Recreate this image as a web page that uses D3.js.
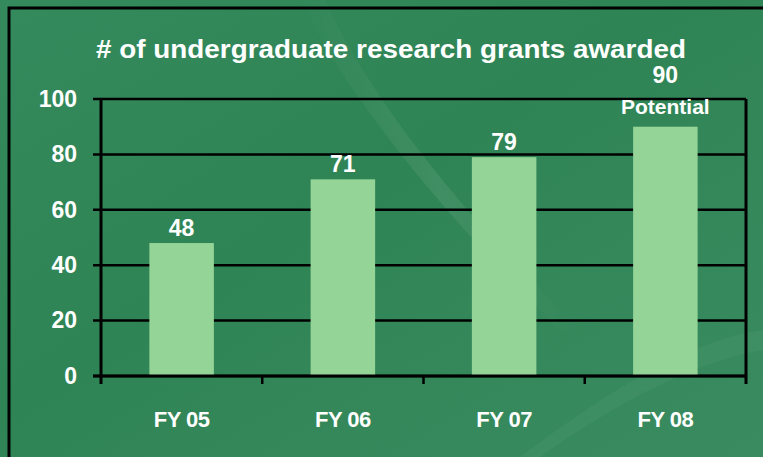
<!DOCTYPE html>
<html>
<head>
<meta charset="utf-8">
<script src="https://cdn.jsdelivr.net/npm/d3@7"></script>
<style>
  html, body { margin: 0; padding: 0; background: #33875a; }
  svg { display: block; }
  text { font-family: "Liberation Sans", Arial, sans-serif; font-weight: bold; fill: #fff; }
</style>
</head>
<body>
<svg id="chart" width="763" height="457"></svg>
<script>
// Daten
const categories = ["FY 05", "FY 06", "FY 07", "FY 08"];
const values = [48, 71, 79, 90];
const yTicks = [0, 20, 40, 60, 80, 100];
const chartTitle = "# of undergraduate research grants awarded";

const svg = d3.select("#chart");
const W = 763, H = 457;

// Hintergrund mit Verlauf
const defs = svg.append("defs");
const bg = defs.append("linearGradient")
  .attr("id", "bg").attr("x1", 0).attr("y1", 0).attr("x2", 1).attr("y2", 1);
bg.append("stop").attr("offset", "0%").attr("stop-color", "#348a5c");
bg.append("stop").attr("offset", "45%").attr("stop-color", "#2f8455");
bg.append("stop").attr("offset", "100%").attr("stop-color", "#3a8c60");

const streak = defs.append("linearGradient")
  .attr("id", "streak").attr("x1", 0).attr("y1", 0).attr("x2", 1).attr("y2", 0);
streak.append("stop").attr("offset", "0%").attr("stop-color", "#ffffff").attr("stop-opacity", 0);
streak.append("stop").attr("offset", "50%").attr("stop-color", "#ffffff").attr("stop-opacity", 0.08);
streak.append("stop").attr("offset", "100%").attr("stop-color", "#ffffff").attr("stop-opacity", 0);

svg.append("rect").attr("width", W).attr("height", H).attr("fill", "url(#bg)");

// heller Bogen im Hintergrund
svg.append("path")
  .attr("d", "M300,0 C360,120 470,240 560,330 L580,330 C490,240 380,120 325,0 Z")
  .attr("fill", "url(#streak)");
svg.append("path")
  .attr("d", "M540,457 C620,400 700,360 763,350 L763,330 C690,340 610,390 520,457 Z")
  .attr("fill", "#ffffff").attr("opacity", 0.04);

// äußerer Rahmen
svg.append("path")
  .attr("d", "M9,460 L9,8 L766,8")
  .attr("fill", "none").attr("stroke", "#000").attr("stroke-width", 3);

const margin = { top: 99, right: 17, bottom: 81, left: 101 };
const width = W - margin.left - margin.right;
const height = H - margin.top - margin.bottom;

const g = svg.append("g")
  .attr("transform", `translate(${margin.left},${margin.top})`);

const x = d3.scaleBand()
  .domain(categories)
  .range([0, width])
  .paddingInner(0.6)
  .paddingOuter(0.3);

const xOuter = d3.scaleBand()
  .domain(categories)
  .range([0, width]);

const y = d3.scaleLinear()
  .domain([0, 100])
  .range([height, 0]);

// Gitterlinien
g.selectAll("line.grid")
  .data(yTicks)
  .enter()
  .append("line")
    .attr("class", "grid")
    .attr("x1", -8)
    .attr("x2", width)
    .attr("y1", d => y(d))
    .attr("y2", d => y(d))
    .attr("stroke", "#000")
    .attr("stroke-width", 2.5);

// Balken
g.selectAll("rect.bar")
  .data(values)
  .enter()
  .append("rect")
    .attr("class", "bar")
    .attr("x", (d, i) => x(categories[i]))
    .attr("y", d => y(d))
    .attr("width", x.bandwidth())
    .attr("height", d => height - y(d))
    .attr("fill", "#94d497");

// Achsen
g.append("line")
  .attr("x1", 0).attr("x2", 0)
  .attr("y1", 0).attr("y2", height + 8)
  .attr("stroke", "#000").attr("stroke-width", 3);

g.append("line")
  .attr("x1", width).attr("x2", width)
  .attr("y1", 0).attr("y2", height + 8)
  .attr("stroke", "#000").attr("stroke-width", 3);

g.append("line")
  .attr("x1", -8).attr("x2", width)
  .attr("y1", height).attr("y2", height)
  .attr("stroke", "#000").attr("stroke-width", 3);

const xAxis = g.append("g")
  .attr("transform", `translate(0,${height})`)
  .call(d3.axisBottom(xOuter).tickSize(0).tickPadding(35));
xAxis.select(".domain").remove();
xAxis.selectAll("text")
  .attr("font-size", "22px")
  .attr("letter-spacing", "-0.5px")
  .attr("fill", "#fff");

// Ticks zwischen Kategorien
g.selectAll("line.xtick")
  .data(categories.slice(1))
  .enter()
  .append("line")
    .attr("class", "xtick")
    .attr("x1", d => xOuter(d))
    .attr("x2", d => xOuter(d))
    .attr("y1", height)
    .attr("y2", height + 8)
    .attr("stroke", "#000")
    .attr("stroke-width", 2.5);

const yAxis = g.append("g")
  .call(d3.axisLeft(y).tickValues(yTicks).tickSize(0).tickPadding(24));
yAxis.select(".domain").remove();
yAxis.selectAll("text")
  .attr("font-size", "23px")
  .attr("fill", "#fff");

// Wertebeschriftungen
g.selectAll("text.val")
  .data(values)
  .enter()
  .append("text")
    .attr("class", "val")
    .attr("x", (d, i) => x(categories[i]) + x.bandwidth() / 2)
    .attr("y", (d, i) => y(d) - (i === 3 ? 44 : 7))
    .attr("text-anchor", "middle")
    .attr("font-size", "23px")
    .text(d => d);

g.append("text")
  .attr("x", x("FY 08") + x.bandwidth() / 2)
  .attr("y", y(90) - 13)
  .attr("text-anchor", "middle")
  .attr("font-size", "21px")
  .text("Potential");

// Titel
svg.append("text")
  .attr("x", 391)
  .attr("y", 58)
  .attr("text-anchor", "middle")
  .attr("font-size", "26px")
  .attr("textLength", 590)
  .attr("lengthAdjust", "spacingAndGlyphs")
  .text(chartTitle);
</script>
</body>
</html>
